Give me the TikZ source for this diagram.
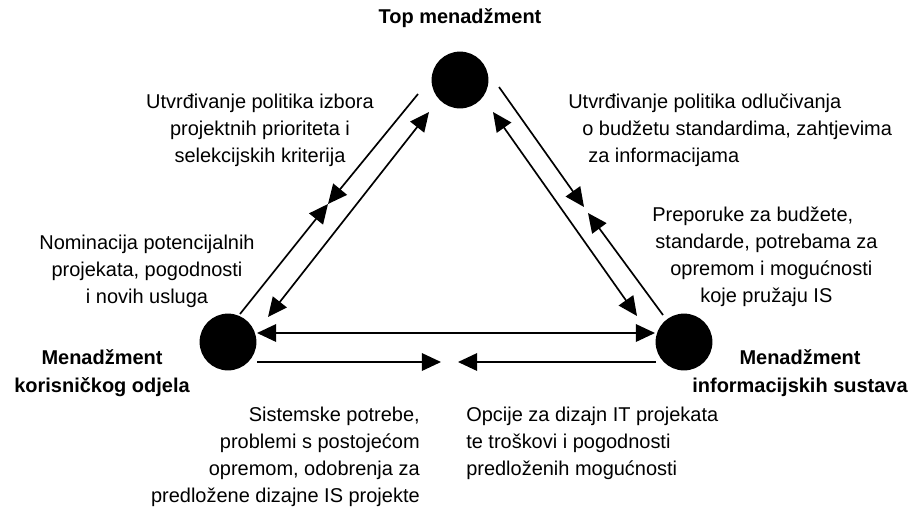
\documentclass[tikz,border=0pt]{standalone}
\usepackage{fontspec}
\setmainfont{Liberation Sans}
\usetikzlibrary{arrows.meta}

\tikzset{
  unit/.style={circle, fill=black, minimum size=1.42cm, inner sep=0pt},
  flow/.style={line width=1.2pt, -{Triangle[length=0.48cm,width=0.44cm]}},
  flowboth/.style={line width=1.2pt, {Triangle[length=0.48cm,width=0.44cm]}-{Triangle[length=0.48cm,width=0.44cm]}},
  txt/.style={inner sep=0pt, font=\fontsize{14.2}{19.2}\selectfont},
  head/.style={inner sep=0pt, font=\fontsize{14.2}{19.6}\selectfont\bfseries, align=center},
}

\begin{document}
\begin{tikzpicture}[x=0.025cm,y=-0.025cm]

\useasboundingbox (0,0) rectangle (912,508);

\node[unit] (TM) at (460,80) {};
\node[unit] (KO) at (228,342) {};
\node[unit] (IS) at (684,342) {};

% left side
\coordinate (LOa) at (418,94);
\coordinate (LOm) at (328,204);
\coordinate (LOb) at (240,314);
\coordinate (LIa) at (429,112);
\coordinate (LIb) at (268,317);

% right side
\coordinate (ROa) at (499,87);
\coordinate (ROma) at (584,207);
\coordinate (ROmb) at (588,213);
\coordinate (ROb) at (663,315);
\coordinate (RIa) at (493,112);
\coordinate (RIb) at (637,316);

% bottom
\coordinate (BUa) at (257,333);
\coordinate (BUb) at (655,333);
\coordinate (BLa) at (257,362);
\coordinate (BLma) at (441,362);
\coordinate (BLmb) at (458,362);
\coordinate (BLb) at (656,362);

\draw[flow] (LOa) -- (LOm);
\draw[flow] (LOb) -- (LOm);
\draw[flowboth] (LIa) -- (LIb);

\draw[flow] (ROa) -- (ROma);
\draw[flow] (ROb) -- (ROmb);
\draw[flowboth] (RIa) -- (RIb);

\draw[flowboth] (BUa) -- (BUb);
\draw[flow] (BLa) -- (BLma);
\draw[flow] (BLb) -- (BLmb);

\node[head] (tTM) at (460,18) {Top menadžment};
\node[head] (tKO) at (102,373) {Menadžment\\korisničkog odjela};
\node[head] (tIS) at (800,373) {Menadžment\\informacijskih sustava};

\node[txt, align=center] (tLa) at (260,130) {Utvrđivanje politika izbora\\projektnih prioriteta i\\selekcijskih kriterija};
\node[txt, align=center] (tLb) at (147,271) {Nominacija potencijalnih\\projekata, pogodnosti\\i novih usluga};

\node[txt, align=left, anchor=west] (tRa) at (568,130) {Utvrđivanje politika odlučivanja\\\hspace*{0.35cm}o budžetu standardima, zahtjevima\\\hspace*{0.5cm}za informacijama};
\node[txt, align=left, anchor=west] (tRb) at (652,257) {Preporuke za budžete,\\\hspace*{0.08cm}standarde, potrebama za\\\hspace*{0.45cm}opremom i mogućnosti\\\hspace*{1.2cm}koje pružaju IS};

\node[txt, align=right, anchor=east] (tBa) at (420,457) {Sistemske potrebe,\\problemi s postojećom\\opremom, odobrenja za\\predložene dizajne IS projekte};
\node[txt, align=left, anchor=west] (tBb) at (466,443) {Opcije za dizajn IT projekata\\te troškovi i pogodnosti\\predloženih mogućnosti};

\end{tikzpicture}
\end{document}
